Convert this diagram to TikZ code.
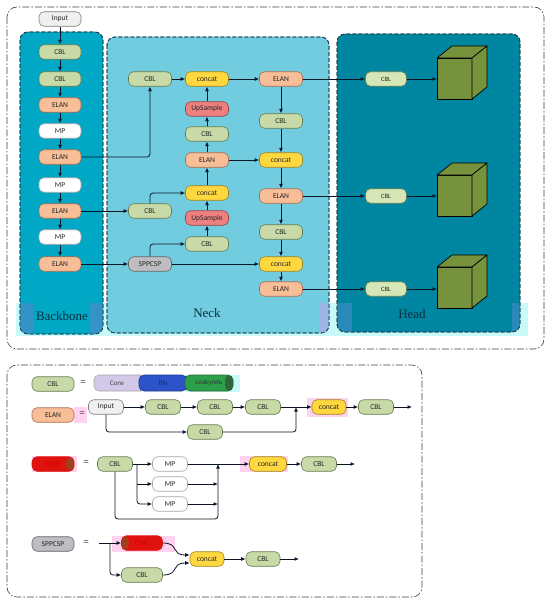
\documentclass[tikz,border=0pt]{standalone}
\usepackage{fontspec}
\newfontfamily\nf{Carlito}
\newfontfamily\lf{Liberation Serif}
\usetikzlibrary{arrows.meta}
\definecolor{bbF}{RGB}{0,168,198}
\definecolor{nkF}{RGB}{112,204,222}
\definecolor{hdF}{RGB}{0,134,160}
\definecolor{panD}{RGB}{30,70,80}
\definecolor{cblF}{RGB}{200,218,168}
\definecolor{cblD}{RGB}{100,125,80}
\definecolor{hcF}{RGB}{214,230,182}
\definecolor{elanF}{RGB}{248,190,152}
\definecolor{elanD}{RGB}{170,110,80}
\definecolor{catF}{RGB}{255,216,64}
\definecolor{catD}{RGB}{160,130,30}
\definecolor{upF}{RGB}{238,128,128}
\definecolor{upD}{RGB}{150,70,70}
\definecolor{sppF}{RGB}{190,190,194}
\definecolor{sppD}{RGB}{100,100,105}
\definecolor{inF}{RGB}{240,240,240}
\definecolor{lineC}{RGB}{10,20,35}
\definecolor{labC}{RGB}{8,50,64}
\definecolor{cubeF}{RGB}{118,146,60}
\definecolor{cyanS}{RGB}{200,250,250}
\definecolor{pinkS}{RGB}{255,210,240}
\definecolor{convF}{RGB}{212,200,232}
\definecolor{convR}{RGB}{184,206,226}
\definecolor{bnF}{RGB}{44,84,200}
\definecolor{lrF}{RGB}{44,160,74}
\definecolor{lrD}{RGB}{46,104,58}
\definecolor{cmcF}{RGB}{224,18,14}
\definecolor{cmcD}{RGB}{160,64,26}
\definecolor{patchB}{RGB}{70,140,200}
\definecolor{patchL}{RGB}{160,178,228}
\tikzset{
  blk/.style={draw, rounded corners=5pt, minimum width=42pt, minimum height=14.5pt,
    inner sep=0pt, font=\nf\fontsize{7.5}{8}\selectfont, line width=0.6pt, text=black!85},
  cbl/.style={blk, fill=cblF, draw=cblD},
  hcbl/.style={blk, fill=hcF, draw=cblD, minimum width=41pt, font=\nf\fontsize{6.5}{7}\selectfont},
  elan/.style={blk, fill=elanF, draw=elanD},
  mpbox/.style={blk, fill=white, draw=gray!70},
  cat/.style={blk, fill=catF, draw=catD},
  ups/.style={blk, fill=upF, draw=upD},
  spp/.style={blk, fill=sppF, draw=sppD},
  inp/.style={blk, fill=inF, draw=gray},
  sm/.style={minimum width=35pt},
  conn/.style={-{Latex[length=4.5pt,width=3.8pt]}, line width=0.8pt, draw=lineC, rounded corners=3pt},
  panel/.style={draw=panD, line width=0.8pt, dash pattern=on 4pt off 2pt, rounded corners=8pt},
  outer/.style={draw=black!75, line width=0.6pt, dash pattern=on 7pt off 2pt on 1.5pt off 2pt, rounded corners=10pt},
  lab/.style={font=\lf\fontsize{13}{13}\selectfont, text=labC},
  eq/.style={font=\nf\fontsize{11}{11}\selectfont, inner sep=0pt, text=black!70},
  cube/.style={fill=cubeF, draw=black, line width=0.7pt, line join=round},
  rend/.style={path picture={\fill[#1] ([xshift=-8pt]path picture bounding box.north east) rectangle (path picture bounding box.south east);}},
  lend/.style={path picture={\fill[#1] (path picture bounding box.north west) rectangle ([xshift=7pt]path picture bounding box.south west);}},
}
\begin{document}
\begin{tikzpicture}[x=1pt,y=-1pt]
\useasboundingbox (0,0) rectangle (550,604);
\fill[white] (0,0) rectangle (550,604);
% outer boxes
\draw[outer] (7,7) rectangle (544,349);
\draw[outer] (7,365) rectangle (422,597);
% bottom strip
\fill[cyanS] (16,303) rectangle (528,336);
% panels
\draw[panel, fill=bbF] (20,32) rectangle (103,334);
\draw[panel, fill=nkF] (107,37) rectangle (329,333);
\draw[panel, fill=hdF] (337,34) rectangle (520,332);
\begin{scope}
\clip[rounded corners=8pt] (20,32) rectangle (103,334);
\fill[patchB, opacity=0.75] (20,303) rectangle (33,334);
\fill[patchB, opacity=0.75] (90,303) rectangle (103,334);
\end{scope}
\begin{scope}
\clip[rounded corners=8pt] (107,37) rectangle (329,333);
\fill[patchL, opacity=0.9] (320,303) rectangle (329,333);
\end{scope}
\begin{scope}
\clip[rounded corners=8pt] (337,34) rectangle (520,332);
\fill[patchB, opacity=0.6] (337,303) rectangle (352,332);
\fill[patchB, opacity=0.6] (512,303) rectangle (520,332);
\end{scope}
\draw[panel] (20,32) rectangle (103,334);
\draw[panel] (107,37) rectangle (329,333);
\draw[panel] (337,34) rectangle (520,332);
\node[lab] (lbb) at (62,316) {Backbone};
\node[lab] (lnk) at (207,313) {Neck};
\node[lab] (lhd) at (412,314) {Head};
% backbone
\node[inp] (in) at (60,19) {Input};
\node[cbl] (b1) at (60,52) {CBL};
\node[cbl] (b2) at (60,79) {CBL};
\node[elan] (b3) at (60,105) {ELAN};
\node[mpbox] (b4) at (60,131) {MP};
\node[elan] (b5) at (60,157) {ELAN};
\node[mpbox] (b6) at (60,185) {MP};
\node[elan] (b7) at (60,211) {ELAN};
\node[mpbox] (b8) at (60,237) {MP};
\node[elan] (b9) at (60,264) {ELAN};
\foreach \a/\b in {in/b1,b1/b2,b2/b3,b3/b4,b4/b5,b5/b6,b6/b7,b7/b8,b8/b9}
  \draw[conn] (\a) -- (\b);
% neck
\node[cbl, minimum width=43pt] (n1) at (150,79) {CBL};
\node[cat, minimum width=43pt] (n2) at (207,79) {concat};
\node[ups, minimum width=43pt] (n3) at (207,109) {UpSample};
\node[cbl, minimum width=43pt] (n4) at (207,134) {CBL};
\node[elan, minimum width=43pt] (n5) at (207,160) {ELAN};
\node[cat, minimum width=43pt] (n6) at (207,193) {concat};
\node[ups, minimum width=43pt] (n7) at (207,218) {UpSample};
\node[cbl, minimum width=43pt] (n8) at (207,244) {CBL};
\node[cbl, minimum width=43pt] (n9) at (150,211) {CBL};
\node[spp, minimum width=43pt] (n10) at (150,264) {SPPCSP};
\node[elan, minimum width=43pt] (r1) at (281,79) {ELAN};
\node[cbl, minimum width=43pt] (r2) at (281,121) {CBL};
\node[cat, minimum width=43pt] (r3) at (281,160) {concat};
\node[elan, minimum width=43pt] (r4) at (281,196) {ELAN};
\node[cbl, minimum width=43pt] (r5) at (281,232) {CBL};
\node[cat, minimum width=43pt] (r6) at (281,264) {concat};
\node[elan, minimum width=43pt] (r7) at (281,289) {ELAN};
\draw[conn] (b5.east) -| (n1.south);
\draw[conn] (b7.east) -- (n9.west);
\draw[conn] (b9.east) -- (n10.west);
\draw[conn] (n1) -- (n2);
\draw[conn] (n3) -- (n2);
\draw[conn] (n4) -- (n3);
\draw[conn] (n5) -- (n4);
\draw[conn] (n6) -- (n5);
\draw[conn] (n7) -- (n6);
\draw[conn] (n8) -- (n7);
\draw[conn] (n9.north) |- (n6.west);
\draw[conn] (n10.north) |- (n8.west);
\draw[conn] (n10.east) -- (r6.west);
\draw[conn] (n2) -- (r1);
\draw[conn] (r1) -- (r2);
\draw[conn] (r2) -- (r3);
\draw[conn] (n5) -- (r3);
\draw[conn] (r3) -- (r4);
\draw[conn] (r4) -- (r5);
\draw[conn] (r5) -- (r6);
\draw[conn] (r6) -- (r7);
% head
\node[hcbl] (h1) at (386,79) {CBL};
\node[hcbl] (h2) at (386,196) {CBL};
\node[hcbl] (h3) at (386,289) {CBL};
\draw[conn] (r1.east) -- (h1.west);
\draw[conn] (r4.east) -- (h2.west);
\draw[conn] (r7.east) -- (h3.west);
\foreach \y/\c in {58/1,175/2,267/3}{
  \draw[cube] (437,\y) rectangle (472,\y+41);
  \draw[cube] (437,\y) -- (452,\y-12) -- (487,\y-12) -- (472,\y) -- cycle;
  \draw[cube] (472,\y) -- (487,\y-12) -- (487,\y+29) -- (472,\y+41) -- cycle;
  \coordinate (cube\c) at (437,\y+20.5);
}
\draw[conn] (h1.east) -- (h1.east -| cube1);
\draw[conn] (h2.east) -- (h2.east -| cube2);
\draw[conn] (h3.east) -- (h3.east -| cube3);
% ---------- legend ----------
% row 1
\node[cbl] (lg1) at (53,384) {CBL};
\node[eq] (eq1) at (83,383) {=};
\fill[cyanS] (185,375) rectangle (240,392);
\node[blk, fill=convF, draw=gray!70, minimum width=52pt, minimum height=16pt, rend=convR, font=\nf\fontsize{7}{8}\selectfont, text=black!75] (conv) at (120,383) {\hspace*{-6pt}Conv};
\node[blk, fill=bnF, draw=bnF!70!black, minimum width=48pt, minimum height=16pt, font=\nf\fontsize{7}{8}\selectfont, text=bnF!50!black] (bn) at (163,383) {BN};
\node[blk, fill=lrF, draw=lrD, minimum width=48pt, minimum height=16pt, rend=lrD, font=\nf\fontsize{7}{8}\selectfont, text=black!80] (lr) at (209,383) {Leakyrelu};
% row 2
\fill[pinkS] (74,407) rectangle (87,423);
\node[elan] (lg2) at (53,415) {ELAN};
\node[eq] (eq2) at (82,414) {=};
\node[inp, sm] (ein) at (106,407) {Input};
\node[cbl, sm] (ec1) at (163,407) {CBL};
\node[cbl, sm] (ec2) at (215,407) {CBL};
\node[cbl, sm] (ec3) at (263,407) {CBL};
\node[cbl, sm] (ec4) at (205,432) {CBL};
\fill[pinkS] (307,398) rectangle (348,417);
\node[cat, minimum width=34pt] (ecat) at (329,407) {concat};
\node[cbl, sm] (ec5) at (376,407) {CBL};
\coordinate (eend) at (412,407);
\coordinate (ej) at (296,407);
\draw[conn] (ein) -- (ec1);
\draw[conn] (ec1) -- (ec2);
\draw[conn] (ec2) -- (ec3);
\draw[conn] (ec3) -- (ecat);
\draw[conn] (ein.south) |- (ec4.west);
\draw[conn] (ec4.east) -| (ej);
\draw[conn] (ecat) -- (ec5);
\draw[conn] (ec5) -- (eend);
% row 3
\fill[pinkS] (32,456) rectangle (77,472);
\node[blk, fill=cmcF, draw=cmcF, rend=cmcD, text=red!80!black] (lg3) at (53,464) {CMC};
\node[eq] (eq3) at (86,463) {=};
\node[cbl, sm] (mc) at (115,464) {CBL};
\node[mpbox, sm] (m1) at (170,464) {MP};
\node[mpbox, sm] (m2) at (170,484) {MP};
\node[mpbox, sm] (m3) at (170,504) {MP};
\fill[pinkS] (240,456) rectangle (288,472);
\node[cat, minimum width=37pt] (mcat) at (268,464) {concat};
\node[cbl, sm] (mc2) at (319,464) {CBL};
\coordinate (mend) at (355,464);
\coordinate (msp) at (137,464);
\coordinate (mj) at (218,464);
\coordinate (mbot) at (218,519);
\draw[conn] (mc) -- (m1);
\draw[conn] (msp) |- (m3.west);
\draw[conn] (msp |- m2.west) -- (m2.west);
\draw[conn] (m1) -- (mcat);
\draw[conn] (m2.east) -- (m2.east -| mj);
\draw[conn] (m3.east) -- (m3.east -| mj);
\draw[conn] (mc.south) |- (mbot) -- (mj);
\draw[conn] (mcat) -- (mc2);
\draw[conn] (mc2) -- (mend);
% row 4
\node[spp] (lg4) at (53,544) {SPPCSP};
\node[eq] (eq4) at (86,543) {=};
\fill[pinkS] (112,536) rectangle (175,552);
\node[blk, fill=cmcF, draw=cmcF, minimum width=41pt, rend=cmcD, lend=cmcD, text=red!80!black] (sc) at (142,543) {CMC};
\node[cbl, minimum width=41pt] (sb) at (142,575) {CBL};
\node[cat, minimum width=34pt] (scat) at (207,559) {concat};
\node[cbl, minimum width=34pt] (sb2) at (263,559) {CBL};
\coordinate (s0) at (99,543);
\coordinate (s1) at (110,543);
\coordinate (send) at (299,559);
\draw[conn] (s0) -- (sc.west);
\draw[conn] (s1) |- (sb.west);
\draw[conn, rounded corners=0pt] (sc.east) .. controls (180,543) and (170,555) .. ([yshift=4pt]scat.west);
\draw[conn, rounded corners=0pt] (sb.east) .. controls (180,575) and (170,563) .. ([yshift=-4pt]scat.west);
\draw[conn] (scat) -- (sb2);
\draw[conn] (sb2) -- (send);
\end{tikzpicture}
\end{document}
